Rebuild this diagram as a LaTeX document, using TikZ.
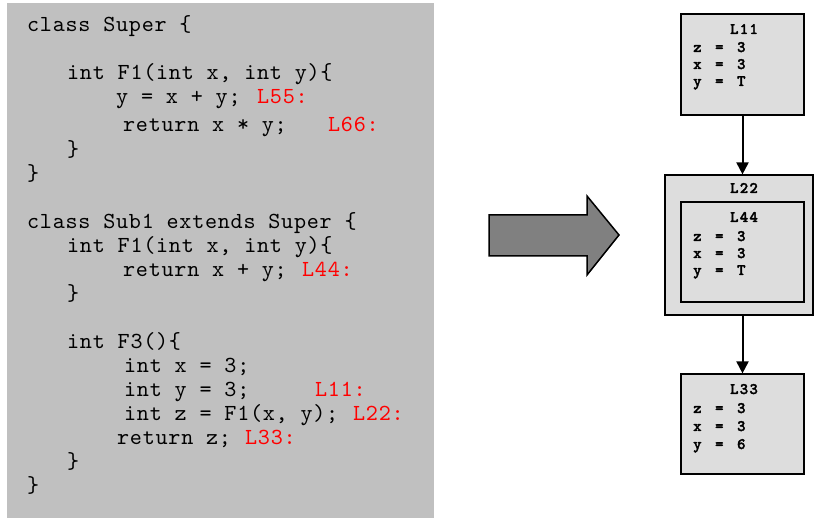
\documentclass[tikz,border=0pt]{standalone}
\usepackage{fontspec}
\newfontfamily\codefont{lmmono10-regular.otf}[LetterSpace=3.2]
\newfontfamily\boxfont{lmmonolt10-bold.otf}[LetterSpace=8, FakeBold=2, WordSpace=1.4]
\usetikzlibrary{arrows.meta}
\definecolor{panel}{HTML}{C0C0C0}
\definecolor{boxfill}{HTML}{DDDDDD}
\definecolor{bigarrow}{HTML}{808080}
\definecolor{lbl}{HTML}{FF0000}
\tikzset{
  code/.style={anchor=base west, inner sep=0pt, font=\fontsize{23}{26}\codefont},
  tag/.style={code, text=lbl},
  state/.style={draw=black, line width=1.2pt, fill=boxfill, inner sep=0pt},
  statetxt/.style={anchor=base west, inner sep=0pt, font=\fontsize{16}{17}\boxfont},
  statehead/.style={anchor=base, inner sep=0pt, font=\fontsize{16}{17}\boxfont},
  flow/.style={line width=2pt, -{Triangle[length=12pt, width=12pt]}}
}
\begin{document}
\begin{tikzpicture}[x=1pt, y=-1pt]
\useasboundingbox (0,0) rectangle (815,518);

% code panel
\fill[panel] (7,3) rectangle (434,518);

\node[code] (c1)  at (27,32)  {class Super \{};
\node[code] (c2)  at (67,80)  {int F1(int x, int y)\{};
\node[code] (c3)  at (116,104) {y = x + y;};
\node[tag]  (t55) at (257,104) {L55:};
\node[code] (c4)  at (123,132) {return x * y;};
\node[tag]  (t66) at (328,132) {L66:};
\node[code] (c5)  at (67,157) {\}};
\node[code] (c6)  at (27,181) {\}};
\node[code] (c7)  at (27,229) {class Sub1 extends Super \{};
\node[code] (c8)  at (67,253) {int F1(int x, int y)\{};
\node[code] (c9)  at (123,277) {return x + y;};
\node[tag]  (t44) at (302,277) {L44:};
\node[code] (c10) at (67,301) {\}};
\node[code] (c11) at (67,349) {int F3()\{};
\node[code] (c12) at (124,373) {int x = 3;};
\node[code] (c13) at (124,397) {int y = 3;};
\node[tag]  (t11) at (315,397) {L11:};
\node[code] (c14) at (124,421) {int z = F1(x, y);};
\node[tag]  (t22) at (353,421) {L22:};
\node[code] (c15) at (117,445) {return z;};
\node[tag]  (t33) at (245,445) {L33:};
\node[code] (c16) at (67,469) {\}};
\node[code] (c17) at (27,493) {\}};

% block arrow
\draw[line width=1.5pt, fill=bigarrow, line join=miter]
  (489,215) -- (587,215) -- (587,196) -- (619,235) -- (587,275)
  -- (587,256) -- (489,256) -- cycle;

% state boxes
\node[state, minimum width=123pt, minimum height=101pt] (s11) at (742.5,64.5) {};
\node[statehead] (h11) at (744,34) {L11};
\node[statetxt] (s11a) at (693,52) {z = 3};
\node[statetxt] (s11b) at (693,69) {x = 3};
\node[statetxt] (s11c) at (693,86) {y = T};

\node[state, minimum width=148pt, minimum height=140pt] (s22) at (739,245) {};
\node[statehead] (h22) at (744,193) {L22};
\node[state, minimum width=123pt, minimum height=100pt] (s44) at (742.5,252) {};
\node[statehead] (h44) at (744,222) {L44};
\node[statetxt] (s44a) at (693,241) {z = 3};
\node[statetxt] (s44b) at (693,258) {x = 3};
\node[statetxt] (s44c) at (693,275) {y = T};

\node[state, minimum width=123pt, minimum height=100pt] (s33) at (742.5,424) {};
\node[statehead] (h33) at (744,394) {L33};
\node[statetxt] (s33a) at (693,413) {z = 3};
\node[statetxt] (s33b) at (693,431) {x = 3};
\node[statetxt] (s33c) at (693,449) {y = 6};

\draw[flow] (s11.south) -- (s22.north -| s11.south);
\draw[flow] (s22.south -| s11.south) -- (s33.north);
\end{tikzpicture}
\end{document}
